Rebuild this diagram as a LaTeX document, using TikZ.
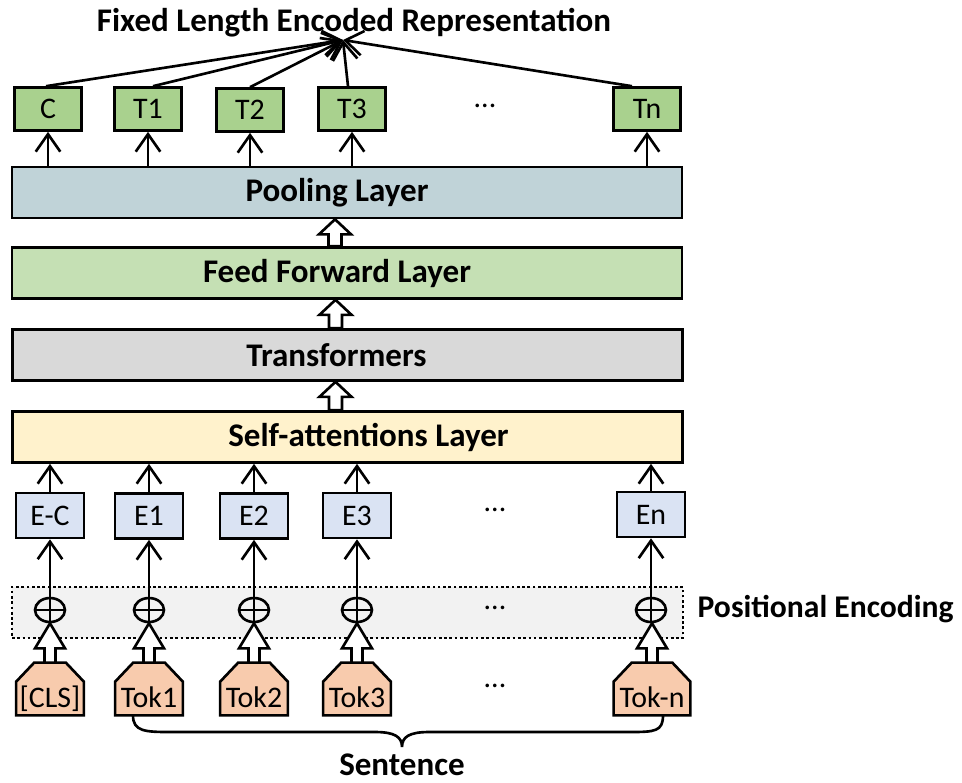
\documentclass[tikz,border=0pt]{standalone}
\usepackage{fontspec}
\setmainfont{Carlito}
\usepackage{xcolor}
\usepackage{tikz}
\usetikzlibrary{shapes.geometric,arrows.meta,positioning,fit,backgrounds,calc}
\definecolor{outgreen}{HTML}{A9D18E}
\definecolor{poolblue}{HTML}{C0D3D8}
\definecolor{ffgreen}{HTML}{C5E0B4}
\definecolor{transgray}{HTML}{D9D9D9}
\definecolor{attyellow}{HTML}{FFF2CC}
\definecolor{embblue}{HTML}{DAE3F3}
\definecolor{tokorange}{HTML}{F8CBAD}
\definecolor{bandgray}{HTML}{F2F2F2}
\newcommand{\lblfont}{\fontsize{17}{20}\selectfont}
\newcommand{\headfont}{\fontsize{18.8}{22}\selectfont}
% hollow block arrow going up: from, to, half shaft, half head, head length
\newcommand{\hollowup}[5]{%
  \draw[hollowarrow] let \p1=(#1), \p2=(#2) in
    (\x1-#3,\y1) -- (\x1-#3,\y2-#5) -- (\x1-#4,\y2-#5) -- (\x1,\y2)
    -- (\x1+#4,\y2-#5) -- (\x1+#3,\y2-#5) -- (\x1+#3,\y1) -- cycle;}
% token outline with cut top corners
\newcommand{\tokoutline}[1]{%
  \draw[tokline] (#1.south west) -- ([yshift=-0.38cm]#1.north west)
    -- ([xshift=0.36cm]#1.north west) -- ([xshift=-0.36cm]#1.north east)
    -- ([yshift=-0.38cm]#1.north east) -- (#1.south east) -- cycle;}
\tikzset{
  outbox/.style={rectangle, draw=black, fill=outgreen, line width=1.5pt,
    minimum width=1.34cm, minimum height=0.86cm, inner sep=0pt, font=\lblfont},
  embbox/.style={rectangle, draw=black, fill=embblue, line width=1.5pt,
    minimum width=1.36cm, minimum height=0.9cm, inner sep=0pt, font=\lblfont},
  layerbox/.style={rectangle, draw=black, line width=1.5pt,
    minimum width=13.4cm, minimum height=1.02cm, inner sep=0pt, font=\headfont\bfseries},
  tokbox/.style={rectangle, minimum width=1.34cm, minimum height=1.04cm,
    inner sep=0pt, text height=0.8cm, text depth=0.06cm, font=\lblfont},
  tokline/.style={draw=black, fill=tokorange, line width=1.5pt, line join=miter},
  plusnode/.style={ellipse, draw=black, line width=1.5pt,
    minimum width=0.6cm, minimum height=0.48cm, inner sep=0pt},
  thinarrow/.style={-{Straight Barb[length=10pt,width=14pt]}, line width=1.5pt},
  hollowarrow/.style={draw=black, fill=white, line width=1.5pt, line join=miter},
  bracepath/.style={line width=1.5pt},
  posband/.style={draw=black, fill=bandgray, dash pattern=on 1.5pt off 1.5pt, line width=1.5pt},
  boldtext/.style={font=\headfont\bfseries, inner sep=0pt},
  dotstext/.style={font=\lblfont, inner sep=0pt},
}
\begin{document}
\begin{tikzpicture}[x=0.02cm, y=-0.02cm]
  \useasboundingbox (0,0) rectangle (962,782);

  % Title and the point where all outputs meet
  \node[boldtext, anchor=base] (title) at (354,31) {Fixed Length Encoded Representation};
  \coordinate (rep) at (343,40);

  % Output boxes
  \node[outbox] (c) at (48,109) {C};
  \node[outbox] (t1) at (148,109) {T1};
  \node[outbox] (t2) at (250,110) {T2};
  \node[outbox] (t3) at (352,109) {T3};
  \node[dotstext] (dotsT) at (485,106) {...};
  \node[outbox] (tn) at (647,109) {Tn};

  % Layer stack
  \node[layerbox, fill=poolblue] (pool) at (347,192.5) {Pooling Layer\hspace*{0.4cm}};
  \node[layerbox, fill=ffgreen] (ffl) at (347,273) {Feed Forward Layer\hspace*{0.4cm}};
  \node[layerbox, fill=transgray] (trans) at (347.5,355) {Transformers\hspace*{0.44cm}};
  \node[layerbox, fill=attyellow] (selfatt) at (347.5,437) {\hspace*{0.84cm}Self-attentions Layer};

  % Embedding boxes
  \node[embbox] (ec) at (50,515.5) {E-C};
  \node[embbox] (e1) at (149,516) {E1};
  \node[embbox] (e2) at (254,516) {E2};
  \node[embbox] (e3) at (357,515.5) {E3};
  \node[dotstext] (dotsE) at (495,510) {...};
  \node[embbox] (en) at (651,514.5) {En};

  % Positional encoding band
  \begin{scope}[on background layer]
    \node[posband, fit={(12,587) (683,638)}, inner sep=0pt] (band) {};
  \end{scope}
  \node[boldtext, font=\fontsize{18}{21}\selectfont\bfseries, right=0.26cm of band, yshift=0.06cm] (poslabel) {Positional Encoding};
  \node[plusnode] (pc) at (50,610) {};
  \node[plusnode] (p1) at (149,610) {};
  \node[plusnode] (p2) at (254,610) {};
  \node[plusnode] (p3) at (357,610) {};
  \node[dotstext] (dotsP) at (495,608) {...};
  \node[plusnode] (pn) at (651,610) {};
  \foreach \p in {pc,p1,p2,p3,pn}{
    \draw[line width=1.5pt] (\p.north) -- (\p.south) (\p.west) -- (\p.east);
  }

  % Input tokens
  \node[tokbox] (cls) at (50,689) {[CLS]};
  \node[tokbox] (tok1) at (149,689) {Tok1};
  \node[tokbox] (tok2) at (254,689) {Tok2};
  \node[tokbox] (tok3) at (357,689) {Tok3};
  \node[dotstext] (dotsK) at (495,686) {...};
  \node[tokbox, minimum width=1.52cm] (tokn) at (652,689) {Tok-n};
  \begin{scope}[on background layer]
    \foreach \k in {cls,tok1,tok2,tok3,tokn}{\tokoutline{\k}}
  \end{scope}

  % Outputs to the representation
  \draw[thinarrow] ([xshift=-0.04cm]c.north) -- (rep);
  \draw[thinarrow] ([xshift=0.1cm]t1.north) -- (rep);
  \draw[thinarrow] (t2.north) -- (rep);
  \draw[thinarrow] ([xshift=-0.08cm]t3.north) -- (rep);
  \draw[thinarrow] ([xshift=-0.3cm]tn.north) -- (rep);

  % Pooling layer to outputs
  \foreach \t in {c,t1,t2,t3,tn}{
    \draw[thinarrow] (\t.south |- pool.north) -- (\t.south);
  }

  % Hollow arrows between layers
  \hollowup{$(selfatt.north)+(-12,0)$}{$(trans.south)+(-12,0)$}{0.13cm}{0.32cm}{0.3cm}
  \hollowup{$(trans.north)+(-12,0)$}{$(ffl.south)+(-12,0)$}{0.13cm}{0.32cm}{0.3cm}
  \hollowup{$(ffl.north)+(-12,0)$}{$(pool.south)+(-12,0)$}{0.13cm}{0.32cm}{0.3cm}

  % Embeddings to self-attention, encodings to embeddings
  \foreach \e/\p in {ec/pc,e1/p1,e2/p2,e3/p3,en/pn}{
    \draw[thinarrow] (\e.north) -- (\e.north |- selfatt.south);
    \draw[thinarrow] (\p.north) -- (\e.south);
  }

  % Tokens into the positional encoding
  \hollowup{cls.north}{pc.south}{0.11cm}{0.3cm}{0.5cm}
  \hollowup{tok1.north}{p1.south}{0.11cm}{0.3cm}{0.5cm}
  \hollowup{tok2.north}{p2.south}{0.11cm}{0.3cm}{0.5cm}
  \hollowup{tok3.north}{p3.south}{0.11cm}{0.3cm}{0.5cm}
  \hollowup{tokn.north}{pn.south}{0.11cm}{0.3cm}{0.5cm}

  % Sentence brace
  \coordinate (bracetip) at (402,747);
  \draw[bracepath] ([xshift=-0.32cm]tok1.south) .. controls +(0,16) and +(-25,0) .. (170,732)
    -- (375,732) .. controls +(20,0) and +(0,-10) .. (bracetip)
    .. controls +(0,-10) and +(-20,0) .. (429,732) -- (630,732)
    .. controls +(25,0) and +(0,16) .. ([xshift=0.22cm]tokn.south);
  \node[boldtext, anchor=base] (sent) at (402,775) {Sentence};
\end{tikzpicture}
\end{document}
